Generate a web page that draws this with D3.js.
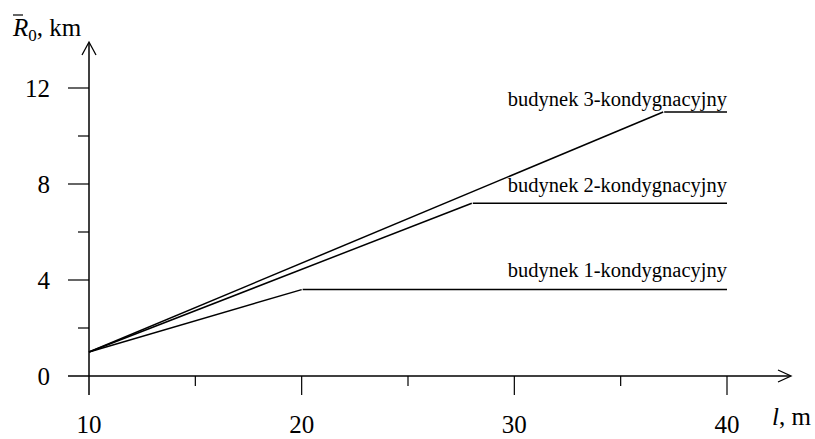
<!DOCTYPE html>
<html>
<head>
<meta charset="utf-8">
<script src="https://cdn.jsdelivr.net/npm/d3@7"></script>
<style>
  body { margin: 0; background: #fff; }
  text { font-family: "Liberation Serif", "Times New Roman", serif; fill: #000; }
</style>
</head>
<body>
<div id="chart"></div>
<script>
var svgWidth = 815;
var svgHeight = 439;

// data
var xTicks = [10, 20, 30, 40];
var xMinor = [15, 25, 35];
var yTicks = [0, 4, 8, 12];
var yMinor = [2, 6, 10];

var startPoint = [10, 1];
var buildings = ["budynek 1-kondygnacyjny", "budynek 2-kondygnacyjny", "budynek 3-kondygnacyjny"];
var bendX = [20, 28, 37];
var bendY = [3.6, 7.2, 11];
var endX = 40;

var svg = d3.select("#chart")
  .append("svg")
  .attr("width", svgWidth)
  .attr("height", svgHeight);

var x = d3.scaleLinear().domain([10, 40]).range([89, 727]);
var y = d3.scaleLinear().domain([0, 12]).range([376, 88]);

var ink = "#000";

// axes lines
svg.append("line")
  .attr("x1", 68).attr("x2", 790)
  .attr("y1", y(0)).attr("y2", y(0))
  .attr("stroke", ink).attr("stroke-width", 1.5);
svg.append("line")
  .attr("x1", x(10)).attr("x2", x(10))
  .attr("y1", 395).attr("y2", 43)
  .attr("stroke", ink).attr("stroke-width", 1.5);

// arrow heads
svg.append("path")
  .attr("d", `M${x(10) - 7},55 L${x(10)},42 L${x(10) + 7},55`)
  .attr("fill", "none").attr("stroke", ink).attr("stroke-width", 1.3);
svg.append("path")
  .attr("d", `M778,${y(0) - 6} L791,${y(0)} L778,${y(0) + 6}`)
  .attr("fill", "none").attr("stroke", ink).attr("stroke-width", 1.3);

// y ticks
svg.selectAll(".ytick")
  .data(yTicks.filter(d => d > 0))
  .enter().append("line")
  .attr("x1", 68).attr("x2", x(10))
  .attr("y1", d => y(d)).attr("y2", d => y(d))
  .attr("stroke", ink).attr("stroke-width", 1.2);
svg.selectAll(".yminor")
  .data(yMinor)
  .enter().append("line")
  .attr("x1", 78).attr("x2", x(10))
  .attr("y1", d => y(d)).attr("y2", d => y(d))
  .attr("stroke", ink).attr("stroke-width", 1.2);
svg.selectAll(".ylab")
  .data(yTicks)
  .enter().append("text")
  .attr("x", 50)
  .attr("y", d => y(d) + 9)
  .attr("text-anchor", "end")
  .style("font-size", "25px")
  .text(d => d);

// x ticks
svg.selectAll(".xtick")
  .data(xTicks.filter(d => d > 10))
  .enter().append("line")
  .attr("x1", d => x(d)).attr("x2", d => x(d))
  .attr("y1", y(0)).attr("y2", 395)
  .attr("stroke", ink).attr("stroke-width", 1.2);
svg.selectAll(".xminor")
  .data(xMinor)
  .enter().append("line")
  .attr("x1", d => x(d)).attr("x2", d => x(d))
  .attr("y1", y(0)).attr("y2", 386)
  .attr("stroke", ink).attr("stroke-width", 1.2);
svg.selectAll(".xlab")
  .data(xTicks)
  .enter().append("text")
  .attr("x", d => x(d))
  .attr("y", 433)
  .attr("text-anchor", "middle")
  .style("font-size", "25px")
  .text(d => d);

// axis titles
var yTitle = svg.append("text")
  .attr("x", 13).attr("y", 36)
  .style("font-size", "25px");
yTitle.append("tspan").style("font-style", "italic").text("R");
yTitle.append("tspan").attr("dy", 5).style("font-size", "17px").text("0");
yTitle.append("tspan").attr("dy", -5).text(", km");
svg.append("line")
  .attr("x1", 13).attr("x2", 23)
  .attr("y1", 15).attr("y2", 15)
  .attr("stroke", ink).attr("stroke-width", 1.2);

var xTitle = svg.append("text")
  .attr("x", 772).attr("y", 425)
  .style("font-size", "25px");
xTitle.append("tspan").style("font-style", "italic").text("l");
xTitle.append("tspan").text(", m");

// series lines: slanted part then flat part
buildings.forEach(function(name, i) {
  svg.append("line")
    .attr("x1", x(startPoint[0])).attr("y1", y(startPoint[1]))
    .attr("x2", x(bendX[i])).attr("y2", y(bendY[i]))
    .attr("stroke", ink).attr("stroke-width", 1.5);
  svg.append("line")
    .attr("x1", x(bendX[i]) + 1).attr("y1", y(bendY[i]))
    .attr("x2", x(endX)).attr("y2", y(bendY[i]))
    .attr("stroke", ink).attr("stroke-width", 1.5);
});

// labels, offset above their flat segment
var labelDy = [-13, -11, -6];
svg.selectAll(".blabel")
  .data(buildings)
  .enter().append("text")
  .attr("x", x(endX))
  .attr("y", (d, i) => y(bendY[i]) + labelDy[i])
  .attr("text-anchor", "end")
  .style("font-size", "20.5px")
  .text(d => d);
</script>
</body>
</html>
